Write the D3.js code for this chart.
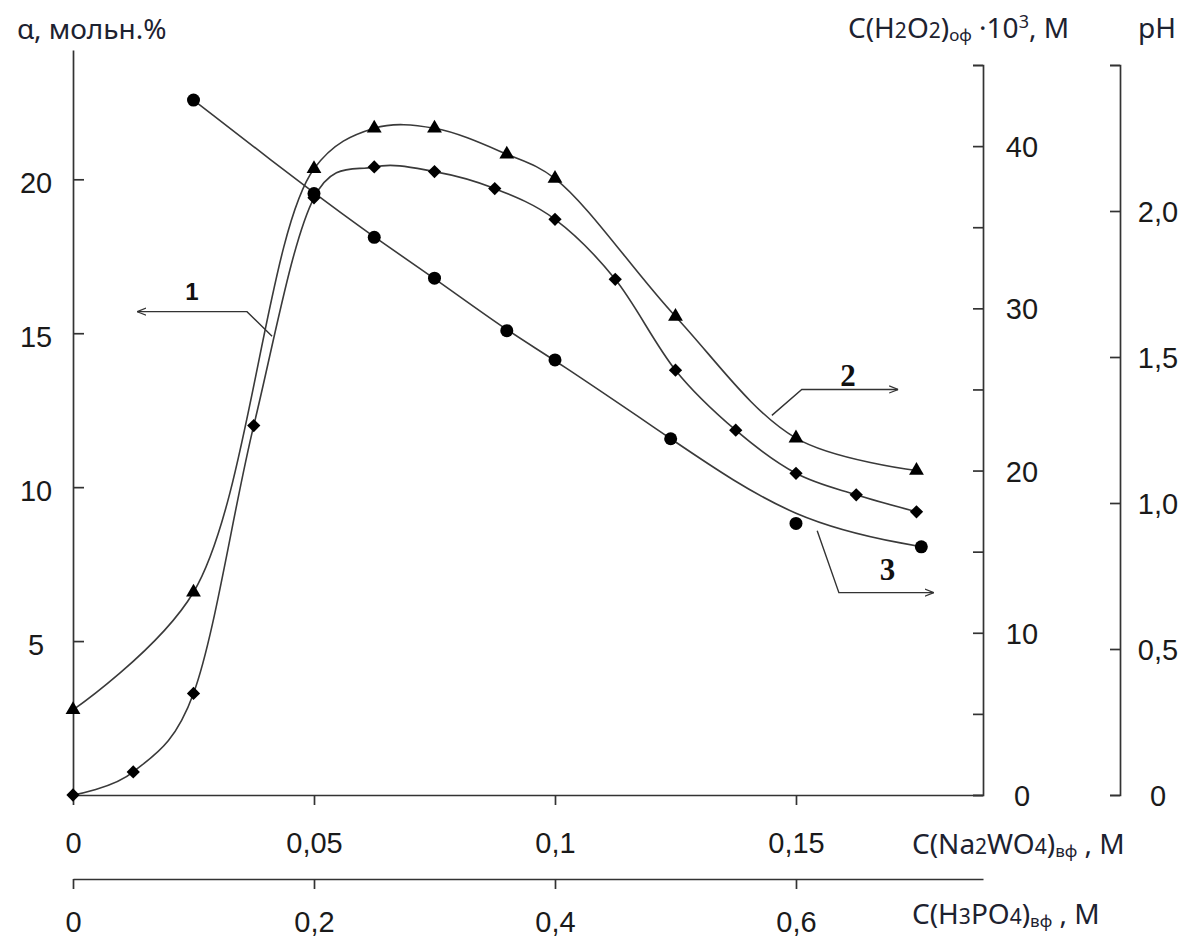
<!DOCTYPE html>
<html>
<head>
<meta charset="utf-8">
<script src="https://cdn.jsdelivr.net/npm/d3@7"></script>
<style>
  body { margin: 0; background: #fff; }
  svg { display: block; }
</style>
</head>
<body>
<div id="chart"></div>
<script>
// curve 1: alpha (left axis), diamonds
var xAlpha = [0, 0.0125, 0.025, 0.0375, 0.05, 0.0625, 0.075, 0.0875, 0.1, 0.1125, 0.125, 0.1375, 0.15, 0.1625, 0.175];
var alphaValues = [0, 0.75, 3.3, 12.0, 19.4, 20.4, 20.25, 19.7, 18.7, 16.75, 13.8, 11.85, 10.45, 9.75, 9.2];

// curve 2: C(H2O2)·10^3 (middle right axis), triangles
var xH2O2 = [0, 0.025, 0.05, 0.0625, 0.075, 0.09, 0.1, 0.125, 0.15, 0.175];
var h2o2Values = [5.25, 12.5, 38.6, 41.1, 41.1, 39.5, 38.0, 29.5, 22.0, 20.0];

// curve 3: pH (far right axis), circles
var xPH = [0.025, 0.05, 0.0625, 0.075, 0.09, 0.1, 0.124, 0.15, 0.176];
var phValues = [2.38, 2.06, 1.91, 1.77, 1.59, 1.49, 1.22, 0.93, 0.85];

// ticks
var xTicks = [0, 0.05, 0.1, 0.15];
var xTickLabels = ["0", "0,05", "0,1", "0,15"];
var x2Ticks = [0, 0.2, 0.4, 0.6];
var x2TickLabels = ["0", "0,2", "0,4", "0,6"];
var alphaTicks = [5, 10, 15, 20];
var h2o2Ticks = [0, 5, 10, 15, 20, 25, 30, 35, 40, 45];
var phTicks = [0, 0.5, 1.0, 1.5, 2.0, 2.5];

var width = 1193, height = 939;
var tickFont = "'Liberation Sans', Arial, sans-serif";
var labelFont = "'Noto Sans', 'Open Sans', sans-serif";
var lineColor = "#3a3a3a";

var svg = d3.select("#chart").append("svg")
    .attr("width", width)
    .attr("height", height);

svg.append("rect").attr("width", width).attr("height", height).attr("fill", "#fff");

var xScale = d3.scaleLinear().domain([0, 0.1888]).range([73, 983]);
var x2Scale = d3.scaleLinear().domain([0, 0.1888 * 4]).range([73, 983]);
var yAlpha = d3.scaleLinear().domain([0, 24.2]).range([795, 50]);
var yH2O2 = d3.scaleLinear().domain([0, 45]).range([795, 65]);
var yPH = d3.scaleLinear().domain([0, 2.5]).range([795, 65]);

function styleAxis(g) {
  g.selectAll("path, line").attr("stroke", "#333").attr("stroke-width", 1.7);
  g.selectAll("text")
    .attr("fill", "#1a1a1a")
    .style("font-family", tickFont)
    .style("font-size", "29px");
}

// bottom axis: Na2WO4
var xAxis = d3.axisBottom(xScale)
  .tickValues(xTicks)
  .tickSize(10)
  .tickSizeOuter(0)
  .tickFormat(function(d, i) { return xTickLabels[i]; });

svg.append("g")
  .attr("class", "x axis")
  .attr("transform", "translate(0,795)")
  .call(xAxis)
  .call(styleAxis)
  .selectAll("text").attr("y", 37);

// second bottom axis: H3PO4
var x2Axis = d3.axisBottom(x2Scale)
  .tickValues(x2Ticks)
  .tickSize(10)
  .tickSizeOuter(0)
  .tickFormat(function(d, i) { return x2TickLabels[i]; });

svg.append("g")
  .attr("class", "x2 axis")
  .attr("transform", "translate(0,879)")
  .call(x2Axis)
  .call(styleAxis)
  .selectAll("text").attr("y", 32);

// left axis: alpha, ticks pointing inward
var yAxisAlpha = d3.axisRight(yAlpha)
  .tickValues(alphaTicks)
  .tickSize(11)
  .tickSizeOuter(0);

svg.append("g")
  .attr("class", "y axis")
  .attr("transform", "translate(73,0)")
  .call(yAxisAlpha)
  .call(styleAxis)
  .selectAll("text")
    .attr("x", -37)
    .attr("text-anchor", "middle")
    .attr("dy", "0.45em");

// H2O2 axis
var yAxisH2O2 = d3.axisLeft(yH2O2)
  .tickValues(h2o2Ticks)
  .tickSize(10)
  .tickSizeOuter(10)
  .tickFormat(function(d) { return d % 10 === 0 ? String(d) : ""; });

svg.append("g")
  .attr("class", "y2 axis")
  .attr("transform", "translate(983,0)")
  .call(yAxisH2O2)
  .call(styleAxis)
  .selectAll("text")
    .attr("x", 39)
    .attr("text-anchor", "middle")
    .attr("dy", "0.36em");

// pH axis
var yAxisPH = d3.axisLeft(yPH)
  .tickValues(phTicks)
  .tickSize(10)
  .tickSizeOuter(10)
  .tickFormat(function(d) {
    if (d === 0) return "0";
    if (d > 2.2) return "";
    return d.toFixed(1).replace(".", ",");
  });

svg.append("g")
  .attr("class", "y3 axis")
  .attr("transform", "translate(1120,0)")
  .call(yAxisPH)
  .call(styleAxis)
  .selectAll("text")
    .attr("x", 38)
    .attr("text-anchor", "middle")
    .attr("dy", "0.36em");

// curves
var alphaData = xAlpha.map(function(d, i) { return { x: d, y: alphaValues[i] }; });
var h2o2Data = xH2O2.map(function(d, i) { return { x: d, y: h2o2Values[i] }; });
var phData = xPH.map(function(d, i) { return { x: d, y: phValues[i] }; });

function drawLine(data, yScale, curve) {
  svg.append("path")
    .datum(data)
    .attr("fill", "none")
    .attr("stroke", lineColor)
    .attr("stroke-width", 1.6)
    .attr("d", d3.line()
      .x(function(d) { return xScale(d.x); })
      .y(function(d) { return yScale(d.y); })
      .curve(curve));
}

drawLine(h2o2Data, yH2O2, d3.curveCatmullRom.alpha(0.5));
drawLine(alphaData, yAlpha, d3.curveCatmullRom.alpha(0.1));
drawLine(phData, yPH, d3.curveBasis);

svg.selectAll(".tri")
  .data(h2o2Data)
 .enter()
  .append("path")
  .attr("class", "tri")
  .attr("transform", function(d) { return "translate(" + xScale(d.x) + "," + yH2O2(d.y) + ")"; })
  .attr("d", d3.symbol().type(d3.symbolTriangle).size(95))
  .attr("fill", "#000");

svg.selectAll(".dia")
  .data(alphaData)
 .enter()
  .append("path")
  .attr("class", "dia")
  .attr("transform", function(d) { return "translate(" + xScale(d.x) + "," + yAlpha(d.y) + ") rotate(45)"; })
  .attr("d", d3.symbol().type(d3.symbolSquare).size(88))
  .attr("fill", "#000");

svg.selectAll(".dot")
  .data(phData)
 .enter()
  .append("circle")
  .attr("class", "dot")
  .attr("cx", function(d) { return xScale(d.x); })
  .attr("cy", function(d) { return yPH(d.y); })
  .attr("r", 6.5)
  .attr("fill", "#000");

// callouts: [attach, elbow, tip] in data units
var defs = svg.append("defs");
defs.append("marker")
  .attr("id", "arrow")
  .attr("viewBox", "0 -5 10 10")
  .attr("refX", 10)
  .attr("refY", 0)
  .attr("markerWidth", 9)
  .attr("markerHeight", 9)
  .attr("markerUnits", "userSpaceOnUse")
  .attr("orient", "auto")
  .append("path")
  .attr("d", "M0,-4L10,0L0,4")
  .attr("fill", "none")
  .attr("stroke", "#333")
  .attr("stroke-width", 1.3);

function callout(pts, yScale, label, lx, ly, font, size, weight) {
  svg.append("path")
    .attr("d", d3.line()(pts.map(function(p) { return [xScale(p[0]), yScale(p[1])]; })))
    .attr("fill", "none")
    .attr("stroke", "#333")
    .attr("stroke-width", 1.4)
    .attr("marker-end", "url(#arrow)");
  svg.append("text")
    .attr("x", xScale(lx))
    .attr("y", yScale(ly))
    .attr("text-anchor", "middle")
    .attr("dy", "0.36em")
    .style("font-family", font)
    .style("font-size", size)
    .style("font-weight", weight)
    .attr("fill", "#111")
    .text(label);
}

callout([[0.0413, 14.9], [0.0361, 15.7], [0.0133, 15.7]], yAlpha, "1", 0.0247, 16.35,
  "'Liberation Sans', Arial, sans-serif", "24px", "bold");
callout([[0.145, 23.4], [0.1512, 25.0], [0.1712, 25.0]], yH2O2, "2", 0.1608, 25.9,
  "'Liberation Serif', 'Times New Roman', serif", "31px", "bold");
callout([[0.1544, 0.905], [0.1589, 0.693], [0.1786, 0.693]], yPH, "3", 0.169, 0.775,
  "'Liberation Serif', 'Times New Roman', serif", "31px", "bold");

// axis titles
function title(x, y) {
  return svg.append("text")
    .attr("x", x)
    .attr("y", y)
    .attr("fill", "#1d2230")
    .style("font-family", labelFont)
    .style("font-size", "28px");
}

title(17, 39).text("α, мольн.%");

var t2 = title(848, 38);
t2.append("tspan").text("C(H");
t2.append("tspan").attr("font-size", "21px").text("2");
t2.append("tspan").text("O");
t2.append("tspan").attr("font-size", "21px").text("2");
t2.append("tspan").text(")");
t2.append("tspan").attr("font-size", "17px").attr("dy", 3).text("оф");
t2.append("tspan").attr("dy", -3).text(" ·10");
t2.append("tspan").attr("font-size", "18px").attr("dy", -10).text("3");
t2.append("tspan").attr("dy", 10).text(", M");

title(1138, 38).text("pH");

var t3 = title(912, 854);
t3.append("tspan").text("C(Na");
t3.append("tspan").attr("font-size", "21px").text("2");
t3.append("tspan").text("WO");
t3.append("tspan").attr("font-size", "21px").text("4");
t3.append("tspan").text(")");
t3.append("tspan").attr("font-size", "17px").attr("dy", 3).text("вф");
t3.append("tspan").attr("dy", -3).text(" , M");

var t4 = title(912, 924);
t4.append("tspan").text("C(H");
t4.append("tspan").attr("font-size", "21px").text("3");
t4.append("tspan").text("PO");
t4.append("tspan").attr("font-size", "21px").text("4");
t4.append("tspan").text(")");
t4.append("tspan").attr("font-size", "17px").attr("dy", 3).text("вф");
t4.append("tspan").attr("dy", -3).text(" , M");
</script>
</body>
</html>
